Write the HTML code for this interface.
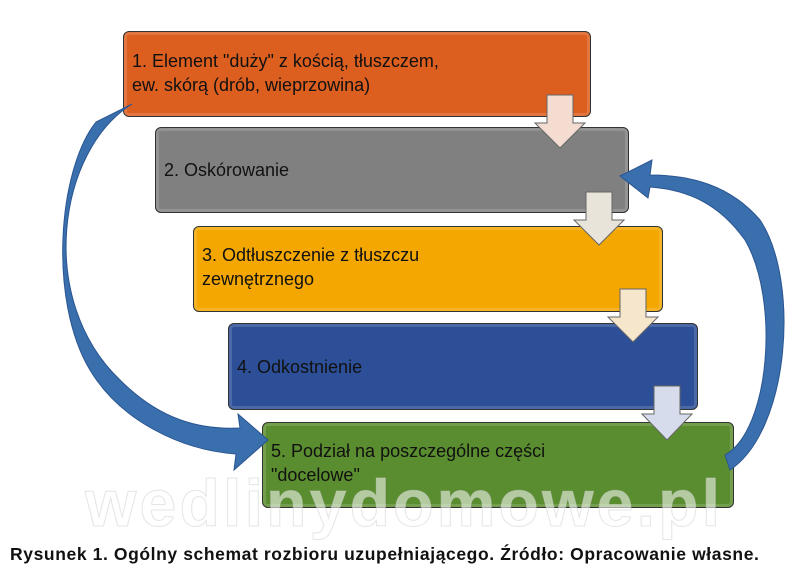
<!DOCTYPE html>
<html><head><meta charset="utf-8"><style>
body{margin:0;width:800px;height:587px;background:#fff;position:relative;overflow:hidden;font-family:"Liberation Sans",sans-serif}
.b{position:absolute;border:1px solid #333;border-radius:6px;box-shadow:inset 0 0 0 3px rgba(255,255,255,0.15);font-size:18px;color:#111;line-height:24px;box-sizing:border-box}
.t{position:absolute;left:8px}
</style></head><body>
<div class="b" style="left:123px;top:31px;width:468px;height:86px;background:#dc5f20"><div class="t" style="top:17px">1. Element "duży" z kością, tłuszczem,<br>ew. skórą (drób, wieprzowina)</div></div>
<div class="b" style="left:155px;top:127px;width:474px;height:86px;background:#808080"><div class="t" style="top:30px">2. Oskórowanie</div></div>
<div class="b" style="left:193px;top:226px;width:470px;height:86px;background:#f3a700"><div class="t" style="top:16px">3. Odtłuszczenie z tłuszczu<br>zewnętrznego</div></div>
<div class="b" style="left:228px;top:323px;width:470px;height:87px;background:#2c4f97"><div class="t" style="top:31px">4. Odkostnienie</div></div>
<div class="b" style="left:262px;top:422px;width:472px;height:86px;background:#5a8d2f"><div class="t" style="top:16px">5. Podział na poszczególne części<br>"docelowe"</div></div>
<svg width="800" height="587" style="position:absolute;left:0;top:0">
<g fill="#f4ddd0" stroke="#666" stroke-width="1">
<polygon points="547,95 573,95 573,123 585,123 560,148 535,123 547,123"/>
<polygon points="586,192 612,192 612,220 624,220 599,245 574,220 586,220" fill="#e8e4da"/>
<polygon points="620,289 646,289 646,317 658,317 633,342 608,317 620,317" fill="#f5e6cc"/>
<polygon points="654,386 680,386 680,414 692,414 667,440 642,414 654,414" fill="#d6dceb"/>
</g>
<path d="M132,104 C58,150 36,300 120,380 C160,420 200,430 240,428 L238,414 L268,440 L234,470 L236,454 C180,450 120,420 90,370 C48,300 58,170 96,122 Z" fill="#3a6fae" stroke="#2a5590"/>
<path d="M730,470 C790,430 800,280 760,220 C730,185 690,175 650,175 L652,160 L620,176 L648,198 L650,187 C690,190 720,205 745,240 C780,300 770,430 725,455 Z" fill="#3a6fae" stroke="#2a5590"/>
<text x="85" y="526" textLength="635" font-family="Liberation Sans" font-weight="bold" font-size="66" fill="#fff" fill-opacity="0.55" stroke="#ccc" stroke-opacity="0.5" stroke-width="1">wedlinydomowe.pl</text>
</svg>
<div style="position:absolute;left:10px;top:544px;font-size:17.5px;font-weight:bold;color:#111;white-space:nowrap;letter-spacing:0.6px">Rysunek 1. Ogólny schemat rozbioru uzupełniającego. Źródło: Opracowanie własne.</div>
</body></html>
